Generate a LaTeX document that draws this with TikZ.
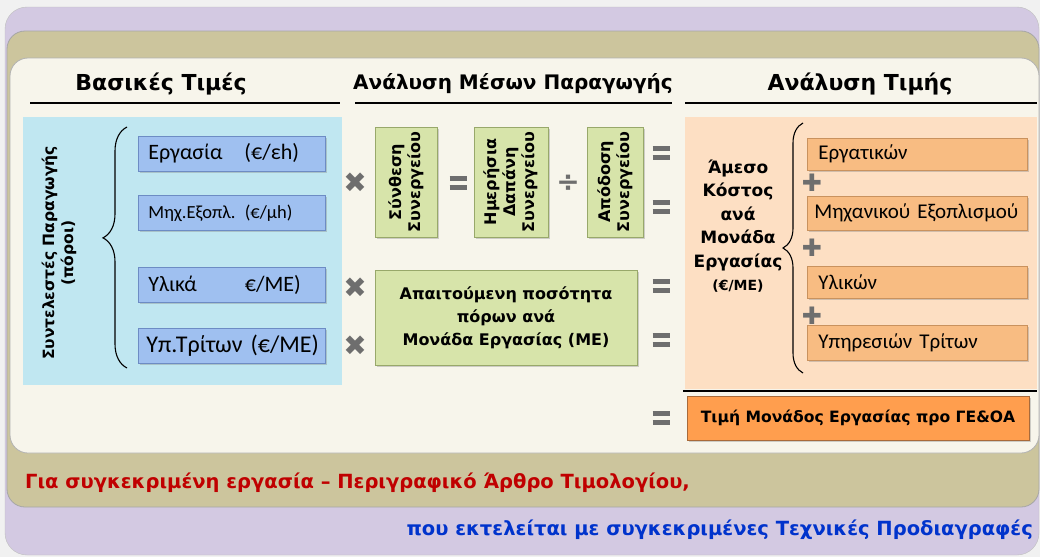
\documentclass[tikz,border=0pt]{standalone}
\usepackage{fontspec}
\setmainfont{DejaVu Sans}
\newfontfamily\calfont{Carlito}
\usetikzlibrary{decorations.pathreplacing,shadows}
\definecolor{bgout}{HTML}{F1F1F1}
\definecolor{purp}{HTML}{D3C9E2}
\definecolor{khaki}{HTML}{CCC59D}
\definecolor{cream}{HTML}{F7F5EB}
\definecolor{ltblue}{HTML}{C0E7F1}
\definecolor{bluefill}{HTML}{9FC0F0}
\definecolor{blueedge}{HTML}{6D8CC4}
\definecolor{greenfill}{HTML}{D7E4AA}
\definecolor{greenedge}{HTML}{98A86A}
\definecolor{peach}{HTML}{FDDFC3}
\definecolor{orfill}{HTML}{F8BC82}
\definecolor{oredge}{HTML}{C9925E}
\definecolor{bigor}{HTML}{FF9E4E}
\definecolor{bigoredge}{HTML}{A86A3A}
\definecolor{symgray}{HTML}{6E6E6E}
\definecolor{redtxt}{HTML}{C00000}
\definecolor{bluetxt}{HTML}{0033CC}
\tikzset{
  header/.style={font=\fontsize{22}{24}\selectfont\bfseries, inner sep=0},
  hline/.style={line width=1.6pt},
  bluebox/.style={draw=blueedge, fill=bluefill, line width=0.8pt, anchor=west,
    inner xsep=10pt, inner ysep=0, text width=167pt, align=left, minimum height=35pt,
    font=\calfont\fontsize{22}{24}\selectfont,
    drop shadow={opacity=0.35, shadow xshift=1.5pt, shadow yshift=-1.5pt}},
  greenbox/.style={draw=greenedge, fill=greenfill, line width=0.8pt, inner sep=0, align=center,
    font=\fontsize{16}{19}\selectfont\bfseries,
    drop shadow={opacity=0.35, shadow xshift=1.5pt, shadow yshift=-1.5pt}},
  orbox/.style={draw=oredge, fill=orfill, line width=0.8pt, anchor=west,
    inner xsep=11pt, inner ysep=0, text width=198pt, align=left,
    font=\calfont\fontsize{21}{22}\selectfont,
    drop shadow={opacity=0.35, shadow xshift=1.5pt, shadow yshift=-1.5pt}},
  timesign/.style={text=symgray, font=\fontsize{28}{28}\selectfont, inner sep=0},
  plussign/.style={text=symgray, font=\fontsize{24}{24}\selectfont, inner sep=0},
  divsign/.style={text=symgray, font=\fontsize{28}{28}\selectfont\bfseries, inner sep=0},
  eqsign/.style={text=symgray, inner sep=0},
  bracestyle/.style={decorate, line width=1.1pt},
}
\newcommand{\eqbars}{\vbox{\hrule width 17pt height 5pt\vskip 3.5pt\hrule width 17pt height 5pt}}
\begin{document}
\begin{tikzpicture}[x=1pt,y=-1pt]
\useasboundingbox (0,0) rectangle (1040,557);
\fill[bgout] (0,0) rectangle (1040,557);
% frames
\fill[purp, draw=gray!50] (5,7) [rounded corners=22pt] rectangle (1039,555);
\fill[khaki, draw=gray!70, line width=0.8pt] (7,31) [rounded corners=18pt] rectangle (1039,507);
\fill[cream, draw=gray!60, line width=0.8pt] (10,58) [rounded corners=18pt] rectangle (1039,453);
% headers
\node[header] (h1) at (161,84) {Βασικές Τιμές};
\node[header, font=\fontsize{20}{24}\selectfont\bfseries] (h2) at (513,84) {Ανάλυση Μέσων Παραγωγής};
\node[header] (h3) at (860,84) {Ανάλυση Τιμής};
\draw[hline] (30,103) -- (340,103);
\draw[hline] (355,103) -- (672,103);
\draw[hline] (685,103) -- (1037,103);
% panels
\fill[ltblue] (23,117) rectangle (342,385);
\fill[peach] (685,117) rectangle (1037,389);
\draw[hline] (683,391) -- (1037,391);
% left side
\node[rotate=90, align=center, font=\fontsize{15.5}{19}\selectfont\bfseries] (prod) at (59,253)
  {Συντελεστές Παραγωγής\\(πόροι)};
\draw[bracestyle, decoration={brace, amplitude=24pt, aspect=0.54}] (127,368) -- (127,127);
\node[bluebox] (b1) at (138,153.5) {Εργασία\hspace{22pt}(€/εh)};
\node[bluebox, font=\calfont\fontsize{18.5}{20}\selectfont] (b2) at (138,213) {Μηχ.Εξοπλ. (€/μh)};
\node[bluebox] (b3) at (138,284.5) {Υλικά\hspace{48pt}€/ΜΕ)};
\node[bluebox, inner xsep=8pt, text width=171pt, font=\calfont\fontsize{24}{25}\selectfont] (b4) at (138,346) {\mbox{Υπ.Τρίτων (€/ΜΕ)}};
% multiplication signs
\node[timesign] (x1) at (355,183) {✖};
\node[timesign] (x2) at (355,288) {✖};
\node[timesign] (x3) at (355,346) {✖};
% green boxes
\node[greenbox, rotate=90, minimum width=110pt, minimum height=62pt] (g1) at (406,182) {Σύνθεση\\Συνεργείου};
\node[eqsign] (e0) at (458,183) {\eqbars};
\node[greenbox, rotate=90, minimum width=110pt, minimum height=74pt] (g2) at (511,182) {Ημερήσια\\Δαπάνη\\Συνεργείου};
\node[divsign] (d1) at (568,183) {÷};
\node[greenbox, rotate=90, minimum width=110pt, minimum height=56pt] (g3) at (615,182) {Απόδοση\\Συνεργείου};
\node[greenbox, minimum width=262pt, minimum height=95pt, font=\fontsize{16}{23}\selectfont\bfseries] (g4) at (506,317.5)
  {Απαιτούμενη ποσότητα\\πόρων ανά\\Μονάδα Εργασίας (ΜΕ)};
% equals
\node[eqsign] (e1) at (661,153) {\eqbars};
\node[eqsign] (e2) at (661,207) {\eqbars};
\node[eqsign] (e3) at (661,286) {\eqbars};
\node[eqsign] (e4) at (661,340) {\eqbars};
\node[eqsign] (e5) at (661,418) {\eqbars};
% right side
\node[align=center, font=\fontsize{17}{23.5}\selectfont\bfseries, inner sep=0] (cost) at (738,226)
  {Άμεσο\\Κόστος\\ανά\\Μονάδα\\Εργασίας\\{\fontsize{14}{16}\selectfont(€/ΜΕ)}};
\draw[bracestyle, decoration={brace, amplitude=20pt, aspect=0.5}] (803,373) -- (803,123);
\node[orbox, minimum height=32pt] (o1) at (807,154) {Εργατικών};
\node[orbox, minimum height=34pt, inner xsep=7pt, text width=206pt] (o2) at (807,213) {Μηχανικού Εξοπλισμού};
\node[orbox, minimum height=32pt] (o3) at (807,282) {Υλικών};
\node[orbox, minimum height=35pt] (o4) at (807,342.5) {Υπηρεσιών Τρίτων};
\node[plussign] (p1) at (812,183) {✚};
\node[plussign] (p2) at (812,248) {✚};
\node[plussign] (p3) at (812,316) {✚};
\node[draw=bigoredge, fill=bigor, line width=0.8pt, minimum width=342pt, minimum height=44pt, inner sep=0,
  font=\fontsize{15.6}{17}\selectfont\bfseries,
  drop shadow={opacity=0.35, shadow xshift=1.5pt, shadow yshift=-1.5pt}] (price) at (858,418)
  {Τιμή Μονάδος Εργασίας προ ΓΕ\&ΟΑ};
% bottom texts
\node[anchor=west, text=redtxt, font=\fontsize{19.5}{21}\selectfont\bfseries, inner sep=0] (red) at (25,483)
  {Για συγκεκριμένη εργασία – Περιγραφικό Άρθρο Τιμολογίου,};
\node[anchor=east, text=bluetxt, font=\fontsize{19.5}{21}\selectfont\bfseries, inner sep=0] (blue) at (1033,530)
  {που εκτελείται με συγκεκριμένες Τεχνικές Προδιαγραφές};
\end{tikzpicture}
\end{document}
